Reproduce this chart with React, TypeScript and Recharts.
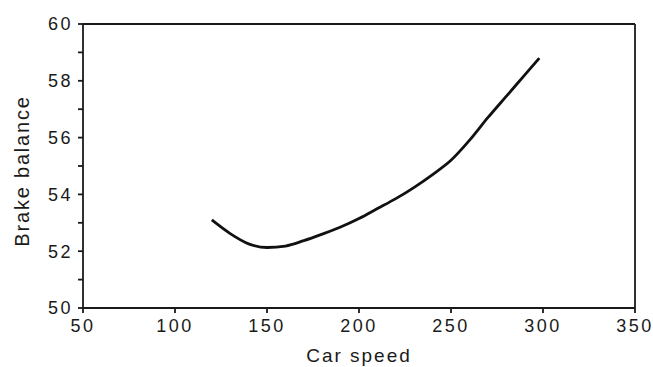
import React from 'react';
import { LineChart, Line, XAxis, YAxis, ReferenceLine } from 'recharts';

// car speed vs brake balance
const speeds = [120, 130, 140, 150, 160, 170, 180, 190, 200, 210, 220, 230, 240, 250, 260, 270, 280, 290, 298];
const balance = [53.1, 52.62, 52.26, 52.13, 52.18, 52.37, 52.6, 52.85, 53.15, 53.5, 53.85, 54.25, 54.7, 55.2, 55.9, 56.7, 57.45, 58.2, 58.8];

const xTicks = [50, 100, 150, 200, 250, 300, 350];
const yTicks = [50, 51, 52, 53, 54, 55, 56, 57, 58, 59, 60];

const data = speeds.map((s, i) => ({ speed: s, balance: balance[i] }));

const FONT = '"Liberation Sans", Arial, sans-serif';
const INK = '#1a1a1a';

// axis titles drawn as plain svg text so the scanned look (wide glyphs) can be matched
const XTitle = (props: any) => {
  const vb = props.viewBox || {};
  return (
    <text x={vb.x + vb.width / 2} y={362} textAnchor="middle" fontSize={19} fontFamily={FONT} fill={INK} letterSpacing={2}>
      Car speed
    </text>
  );
};

const YTitle = (props: any) => {
  const vb = props.viewBox || {};
  const cy = vb.y + vb.height / 2 + 5;
  return (
    <text
      x={0}
      y={0}
      transform={`translate(29, ${cy}) rotate(-90)`}
      textAnchor="middle"
      fontSize={20}
      fontFamily={FONT}
      fill={INK}
      letterSpacing={1.8}
    >
      Brake balance
    </text>
  );
};

export default function App() {
  return (
    <div style={{ position: 'absolute', left: 0, top: 0, background: '#fff' }}>
      <LineChart width={653} height={367} data={data} margin={{ top: 24, right: 18, bottom: 0, left: 0 }}>
        <XAxis
          type="number"
          dataKey="speed"
          domain={[50, 350]}
          ticks={xTicks}
          height={59}
          tickSize={5}
          tickMargin={6}
          stroke={INK}
          strokeWidth={1.8}
          tick={{ fontSize: 18, fontFamily: FONT, fill: INK, letterSpacing: 2.5 }}
          label={<XTitle />}
        />
        <YAxis
          type="number"
          domain={[50, 60]}
          ticks={yTicks}
          interval={0}
          width={83}
          tickSize={5}
          tickMargin={5}
          stroke={INK}
          strokeWidth={1.8}
          tickFormatter={(v: number) => (v % 2 === 0 ? String(v) : '')}
          tick={{ fontSize: 18, fontFamily: FONT, fill: INK, letterSpacing: 2.5 }}
          label={<YTitle />}
        />
        <ReferenceLine y={60} stroke={INK} strokeWidth={1.8} />
        <ReferenceLine x={350} stroke={INK} strokeWidth={1.8} />
        <Line
          type="monotone"
          dataKey="balance"
          stroke="#111"
          strokeWidth={2.8}
          dot={false}
          isAnimationActive={false}
        />
      </LineChart>
    </div>
  );
}
